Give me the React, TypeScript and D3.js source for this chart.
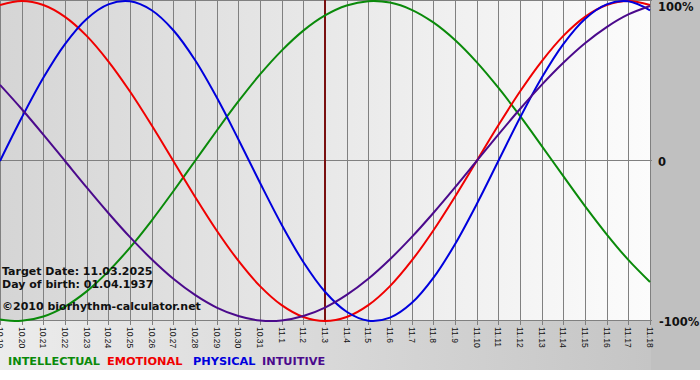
import React from "react";
import * as d3 from "d3";

const dayLabels = [
  "10.19","10.20","10.21","10.22","10.23","10.24","10.25","10.26","10.27","10.28",
  "10.29","10.30","10.31","11.1","11.2","11.3","11.4","11.5","11.6","11.7",
  "11.8","11.9","11.10","11.11","11.12","11.13","11.14","11.15","11.16","11.17","11.18",
];

const physical = [
  0, 0.27, 0.52, 0.731, 0.888, 0.979, 0.998, 0.942, 0.817, 0.631, 0.398, 0.136,
  -0.136, -0.398, -0.631, -0.817, -0.942, -0.998, -0.979, -0.888, -0.731, -0.52,
  -0.27, 0, 0.27, 0.52, 0.731, 0.888, 0.979, 0.998, 0.942,
];
const emotional = [
  0.975, 1, 0.975, 0.901, 0.782, 0.623, 0.434, 0.223, 0, -0.223, -0.434, -0.623,
  -0.782, -0.901, -0.975, -1, -0.975, -0.901, -0.782, -0.623, -0.434, -0.223, 0,
  0.223, 0.434, 0.623, 0.782, 0.901, 0.975, 1, 0.975,
];
const intellectual = [
  -0.99, -0.999, -0.972, -0.91, -0.815, -0.69, -0.541, -0.372, -0.189, 0, 0.189,
  0.372, 0.541, 0.69, 0.815, 0.91, 0.972, 0.999, 0.99, 0.945, 0.866, 0.756, 0.618,
  0.458, 0.282, 0.095, -0.095, -0.282, -0.458, -0.618, -0.756,
];
const intuitive = [
  0.476, 0.325, 0.165, 0, -0.165, -0.325, -0.476, -0.614, -0.736, -0.837, -0.916,
  -0.969, -0.997, -0.997, -0.969, -0.916, -0.837, -0.736, -0.614, -0.476, -0.325,
  -0.165, 0, 0.165, 0.325, 0.476, 0.614, 0.736, 0.837, 0.916, 0.969,
];

const targetIndex = 15;
const series = [
  { name: "INTELLECTUAL", values: intellectual, color: "#0a8a0a", lx: 8 },
  { name: "EMOTIONAL", values: emotional, color: "#f00000", lx: 107 },
  { name: "PHYSICAL", values: physical, color: "#0000dd", lx: 193 },
  { name: "INTUITIVE", values: intuitive, color: "#4b0a8c", lx: 262 },
];
const infoLines = ["Target Date: 11.03.2025", "Day of birth: 01.04.1937"];
const copyright = "\u00A92010 biorhythm-calculator.net";
const yLabelValues = [1, 0, -1];
const yLabelTexts = ["100%", "0", "-100%"];

export default function App() {
  const W = 700, H = 380;
  const plotR = 650;
  const x = d3.scaleLinear().domain([0, dayLabels.length - 1]).range([0, plotR]);
  const y = d3.scaleLinear().domain([-1, 1]).range([321, 1]);
  const line = d3
    .line<number>()
    .x((_, i) => x(i))
    .y((v) => y(v))
    .curve(d3.curveCatmullRom.alpha(0.5));
  const px = (v: number) => Math.round(v) + 0.5;
  const font = "'DejaVu Sans', Verdana, sans-serif";
  const labelDy = [10, 4.5, 5];

  return (
    <svg
      width={W}
      height={H}
      style={{ position: "absolute", left: 0, top: 0, display: "block" }}
    >
      <defs>
        <linearGradient id="plotBg" x1="0" x2="1" y1="0" y2="0">
          <stop offset="0" stopColor="#d5d5d5" />
          <stop offset="1" stopColor="#fcfcfc" />
        </linearGradient>
        <linearGradient id="botBg" x1="0" x2="1" y1="0" y2="0">
          <stop offset="0" stopColor="#ececec" />
          <stop offset="1" stopColor="#c2c2c2" />
        </linearGradient>
      </defs>
      <rect x={0} y={0} width={W} height={H} fill="#ffffff" />
      <rect x={0} y={0} width={W} height={370} fill="url(#botBg)" />
      <rect x={651} y={0} width={49} height={370} fill="#c0c0c0" />
      <rect x={0} y={0} width={651} height={321} fill="url(#plotBg)" />

      {dayLabels.map((d, i) => (
        <line
          key={"g" + i}
          x1={px(x(i))}
          x2={px(x(i))}
          y1={0}
          y2={325}
          stroke="#808080"
          strokeWidth={1}
        />
      ))}
      {yLabelValues.map((v, i) => (
        <line
          key={"h" + i}
          x1={0}
          x2={652}
          y1={Math.round(y(v)) - 0.5}
          y2={Math.round(y(v)) - 0.5}
          stroke="#808080"
          strokeWidth={1}
        />
      ))}

      <line
        x1={Math.round(x(targetIndex))}
        x2={Math.round(x(targetIndex))}
        y1={0}
        y2={321}
        stroke="#7a1010"
        strokeWidth={2}
      />

      {series.map((s) => (
        <path
          key={s.name}
          d={line(s.values) || ""}
          fill="none"
          stroke={s.color}
          strokeWidth={2}
        />
      ))}

      {infoLines.map((t, i) => (
        <text
          key={t}
          x={2}
          y={275 + i * 12.5}
          fontFamily={font}
          fontWeight="bold"
          fontSize={11}
          fill="#111"
        >
          {t}
        </text>
      ))}
      <text x={2} y={310} fontFamily={font} fontWeight="bold" fontSize={11} fill="#111">
        {copyright}
      </text>

      {yLabelValues.map((v, i) => (
        <text
          key={yLabelTexts[i]}
          x={v < 0 ? 659 : 658}
          y={y(v) + labelDy[i]}
          fontFamily={font}
          fontWeight="bold"
          fontSize={11.5}
          fill="#111"
        >
          {yLabelTexts[i]}
        </text>
      ))}

      {dayLabels.map((d, i) => (
        <text
          key={"t" + i}
          transform={`translate(${x(i)},327) rotate(90)`}
          dy="0.35em"
          fontFamily="'Liberation Sans', Arial, sans-serif"
          fontSize={8.5}
          fill="#111"
        >
          {d}
        </text>
      ))}

      {series.map((s) => (
        <text
          key={"l" + s.name}
          x={s.lx}
          y={365}
          fontFamily={font}
          fontWeight="bold"
          fontSize={11.3}
          fill={s.color}
        >
          {s.name}
        </text>
      ))}
    </svg>
  );
}
